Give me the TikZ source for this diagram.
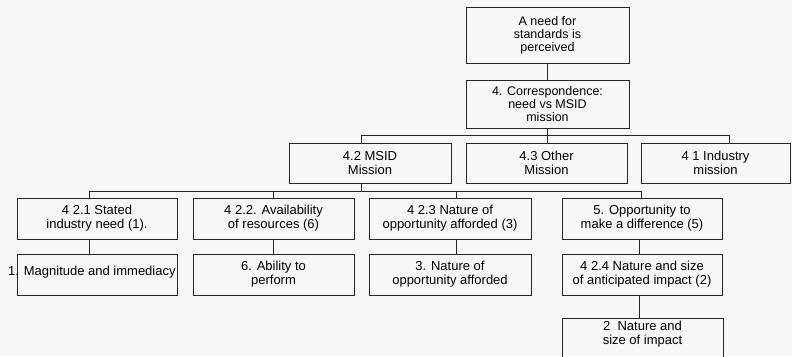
\documentclass[tikz,border=0pt]{standalone}
\usepackage{fontspec}
\setmainfont{Liberation Sans}
\begin{document}
\begin{tikzpicture}[x=1pt,y=-1pt,
  box/.style={draw=black!85, line width=0.8pt, inner sep=0pt, align=center,
    font=\fontsize{13}{14}\selectfont},
  plain/.style={inner sep=0pt, align=center, font=\fontsize{13}{14}\selectfont},
  link/.style={draw=black!85, line width=0.8pt}]
% page and background
\fill[black!3] (0,0) rectangle (792,356);
\useasboundingbox (0,0) rectangle (792,356);
\clip (0,0) rectangle (792,356);

% top of the tree
\node[box, minimum width=163pt, minimum height=56pt,
  font=\fontsize{12.5}{13}\selectfont] (need) at (547.5,35)
  {A need for\\standards is\\perceived};
\node[box, minimum width=163pt, minimum height=48pt,
  font=\fontsize{12.5}{13}\selectfont] (corr) at (547.5,104)
  {4. Correspondence:\\need vs MSID\\mission};

% missions
\node[box, minimum width=162pt, minimum height=40pt] (msid) at (370,163)
  {4.2 MSID\\Mission};
\node[box, minimum width=161pt, minimum height=40pt] (other) at (546.5,163)
  {4.3 Other\\Mission};
\node[box, minimum width=149pt, minimum height=40pt] (ind) at (715.5,163)
  {4 1 Industry\\mission};

% criteria
\node[box, minimum width=160pt, minimum height=41pt] (c1) at (97,218.5)
  {4 2.1 Stated\\industry need (1).};
\node[box, minimum width=161pt, minimum height=41pt] (c2) at (273.5,218.5)
  {4 2.2. Availability\\of resources (6)};
\node[box, minimum width=162pt, minimum height=41pt] (c3) at (450,218.5)
  {4 2.3 Nature of\\opportunity afforded (3)};
\node[box, minimum width=160pt, minimum height=41pt] (c4) at (642,218.5)
  {5. Opportunity to\\make a difference (5)};

% ratings
\node[box, minimum width=160pt, minimum height=41pt] (r1) at (97,274.5) {};
\node[plain, anchor=base west] (r1text) at (8,275)
  {1. Magnitude and immediacy};
\node[box, minimum width=161pt, minimum height=41pt] (r2) at (273.5,274.5)
  {6. Ability to\\perform};
\node[box, minimum width=162pt, minimum height=41pt] (r3) at (450,274.5)
  {3. Nature of\\opportunity afforded};
\node[box, minimum width=160pt, minimum height=41pt] (r4) at (642,274.5)
  {4 2.4 Nature and size\\of anticipated impact (2)};
\node[box, minimum width=161pt, minimum height=52pt] (r5) at (642.5,344) {};
\node[plain, anchor=north] (r5text) at (642.5,321)
  {2\ \ Nature and\\size of impact};

% bus lines
\coordinate (busA) at (361,135);
\coordinate (busB) at (729,135);
\coordinate (busC) at (89,191);
\coordinate (busD) at (641,191);

\draw[link] (need) -- (corr);
\draw[link] (corr.south) -- (corr.south |- busA);
\draw[link] (busA) -- (busB);
\draw[link] (busA) -- (busA |- msid.north);
\draw[link] (corr.south |- busA) -- (corr.south |- other.north);
\draw[link] (busB) -- (busB |- ind.north);

\draw[link] (busA |- msid.south) -- (busA |- busC);
\draw[link] (busC) -- (busD);
\draw[link] (busC) -- (busC |- c1.north);
\draw[link] (c2.north |- busC) -- (c2.north);
\draw[link] (456,191) -- (c3.north -| 456,0);
\draw[link] (busD) -- (busD |- c4.north);

\draw[link] (c1.south -| busC) -- (r1.north -| busC);
\draw[link] (c2.south) -- (r2.north);
\draw[link] (c3.south -| 456,0) -- (r3.north -| 456,0);
\draw[link] (c4.south -| 639,0) -- (r4.north -| 639,0);
\draw[link] (r4.south -| 639,0) -- (r5.north -| 639,0);
\end{tikzpicture}
\end{document}
